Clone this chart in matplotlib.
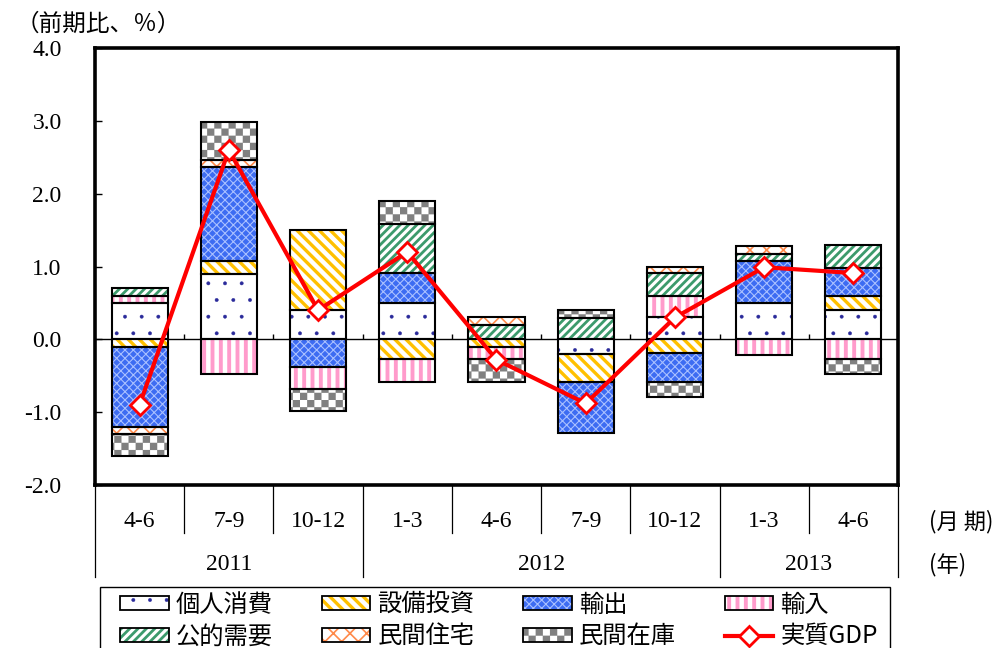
import warnings
import numpy as np
import matplotlib
matplotlib.use("Agg")
import matplotlib.pyplot as plt
import matplotlib.hatch as mhatch
from matplotlib.path import Path
from matplotlib.patches import Rectangle
from matplotlib.legend_handler import HandlerPatch
import matplotlib.transforms as mtrans

warnings.filterwarnings("ignore")

# ---------------- data ----------------
quarters = ["4-6", "7-9", "10-12", "1-3", "4-6", "7-9", "10-12", "1-3", "4-6"]
years = ["2011", "2012", "2013"]
year_counts = [3, 4, 2]

consumption = [0.5, 0.9, 0.4, 0.5, 0.0, -0.2, 0.3, 0.5, 0.4]        # 個人消費
investment = [-0.1, 0.17, 1.1, -0.27, -0.1, -0.39, -0.19, 0.0, 0.19]  # 設備投資
exports = [-1.1, 1.3, -0.38, 0.41, 0.0, -0.7, -0.39, 0.57, 0.39]     # 輸出
imports = [0.1, -0.48, -0.3, -0.31, -0.17, 0.0, 0.29, -0.21, -0.27]  # 輸入
public = [0.1, 0.0, 0.0, 0.68, 0.2, 0.29, 0.32, 0.1, 0.31]           # 公的需要
housing = [-0.1, 0.09, 0.0, 0.0, 0.11, 0.0, 0.08, 0.11, 0.0]         # 民間住宅
inventory = [-0.3, 0.52, -0.31, 0.31, -0.31, 0.11, -0.21, 0.0, -0.21]  # 民間在庫
real_gdp = [-0.9, 2.6, 0.4, 1.2, -0.28, -0.88, 0.3, 0.99, 0.91]      # 実質GDP

y_ticks = [-2.0, -1.0, 0.0, 1.0, 2.0, 3.0, 4.0]

# ---------------- custom checker hatch ----------------
class CheckerHatch(mhatch.HatchPatternBase):
    def __init__(self, hatch, density):
        self.n = 14 if "c" in hatch else 0
        self.num_vertices = (self.n * self.n // 2) * 5

    def set_vertices_and_codes(self, vertices, codes):
        s = 1.0 / self.n
        k = 0
        for i in range(self.n):
            for j in range(self.n):
                if (i + j) % 2 == 0:
                    x0, y0 = i * s, j * s
                    vertices[k:k + 5] = [(x0, y0), (x0 + s, y0), (x0 + s, y0 + s),
                                         (x0, y0 + s), (x0, y0)]
                    codes[k] = Path.MOVETO
                    codes[k + 1:k + 4] = Path.LINETO
                    codes[k + 4] = Path.CLOSEPOLY
                    k += 5

mhatch._hatch_types.append(CheckerHatch)


def apply_hlw(artist, lw):
    if hasattr(artist, "set_hatch_linewidth"):
        artist.set_hatch_linewidth(lw)
    artist._hatch_linewidth = lw
    return artist


class HatchHandler(HandlerPatch):
    def __init__(self, hlw, **kw):
        super().__init__(**kw)
        self.hlw = hlw

    def create_artists(self, *args, **kwargs):
        with plt.rc_context({"hatch.linewidth": self.hlw}):
            arts = super().create_artists(*args, **kwargs)
        for a in arts:
            apply_hlw(a, self.hlw)
        return arts


JP = ["Noto Sans CJK JP", "DejaVu Sans"]
NUM = ["Liberation Serif", "DejaVu Serif"]

components = [
    ("個人消費", consumption, dict(fc="white", hc="#2a2a9a", hatch=".", hlw=0.3)),
    ("設備投資", investment, dict(fc="white", hc="#FFC000", hatch="\\\\\\", hlw=2.4)),
    ("輸出", exports, dict(fc="#3D6CF2", hc="#A9C0FF", hatch="xxxx", hlw=0.8)),
    ("輸入", imports, dict(fc="white", hc="#FF9BCB", hatch="||", hlw=2.8)),
    ("公的需要", public, dict(fc="white", hc="#3C9A6C", hatch="////", hlw=2.0)),
    ("民間住宅", housing, dict(fc="white", hc="#FF8A4A", hatch="xx", hlw=1.2)),
    ("民間在庫", inventory, dict(fc="white", hc="#808080", hatch="c", hlw=0.1)),
]

fig = plt.figure(figsize=(10.04, 6.48), dpi=100)
ax = fig.add_axes([95 / 1004, 1 - 485 / 648, 803 / 1004, 437 / 648])

n = len(quarters)
x = np.arange(n)
width = 0.63

pos_base = np.zeros(n)
neg_base = np.zeros(n)
legend_handles = {}
handler_map = {}
for name, vals, st in components:
    vals = np.asarray(vals, dtype=float)
    mask = vals != 0
    bottoms = np.where(vals >= 0, pos_base, neg_base)
    with plt.rc_context({"hatch.linewidth": st["hlw"]}):
        bars = ax.bar(x[mask], vals[mask], bottom=bottoms[mask], width=width,
                      facecolor=st["fc"], edgecolor=st["hc"], hatch=st["hatch"],
                      linewidth=0, zorder=2)
        hp = Rectangle((0, 0), 1, 1, facecolor=st["fc"], edgecolor=st["hc"],
                       hatch=st["hatch"], linewidth=0)
    for b in bars:
        apply_hlw(b, st["hlw"])
    apply_hlw(hp, st["hlw"])
    ax.bar(x[mask], vals[mask], bottom=bottoms[mask], width=width, fill=False,
           edgecolor="black", linewidth=1.5, zorder=3)
    pos_base += np.where(vals > 0, vals, 0)
    neg_base += np.where(vals < 0, vals, 0)
    he = Rectangle((0, 0), 1, 1, fill=False, edgecolor="black", linewidth=1.3)
    legend_handles[name] = (hp, he)
    handler_map[hp] = HatchHandler(st["hlw"])

ax.axhline(0, color="black", lw=1.0, zorder=1)
ax.vlines(x[:-1] + 0.5, 0, 0.08, color="black", lw=1.0, zorder=1)

gdp_line, = ax.plot(x, real_gdp, color="#FF0000", lw=3, marker="D", ms=10.5,
                    mfc="white", mec="#FF0000", mew=2, zorder=5)

ax.set_xlim(-0.5, n - 0.5)
ax.set_ylim(-2.0, 4.0)
ax.set_yticks(y_ticks)
ax.set_yticklabels([f"{v:.1f}" for v in y_ticks], fontfamily=NUM, fontsize=17)
ax.tick_params(axis="y", direction="in", length=5, width=1, pad=24)
ax.tick_params(axis="x", bottom=False, labelbottom=False)
for sp in ax.spines.values():
    sp.set_linewidth(2.6)
    sp.set_color("black")

# category table under the axis
trans = mtrans.blended_transform_factory(ax.transData, ax.transAxes)
row1_y = -0.084
row2_y = -0.183
sep_short = -0.110
sep_long = -0.211
group_edges = np.concatenate([[0], np.cumsum(year_counts)]) - 0.5
for b in np.arange(n + 1) - 0.5:
    bottom = sep_long if np.any(np.isclose(group_edges, b)) else sep_short
    ax.plot([b, b], [0, bottom], transform=trans, color="black", lw=0.9,
            clip_on=False)
for i, q in enumerate(quarters):
    ax.text(x[i], row1_y, q, transform=trans, ha="center", va="center",
            fontsize=17, fontfamily=NUM)
for i, yr in enumerate(years):
    c = (group_edges[i] + group_edges[i + 1]) / 2
    ax.text(c, row2_y, yr, transform=trans, ha="center", va="center",
            fontsize=17, fontfamily=NUM)
ax.text(n - 0.5 + 0.35, row1_y, "(月 期)", transform=trans, ha="left",
        va="center", fontsize=16, fontfamily=JP)
ax.text(n - 0.5 + 0.35, row2_y, "(年)", transform=trans, ha="left",
        va="center", fontsize=16, fontfamily=JP)

fig.text(16 / 1004, 1 - 24 / 648, "（前期比、％）", ha="left", va="center",
         fontsize=17, fontfamily=JP)

# legend (row-wise order for 4 columns), frame drawn separately
order = ["個人消費", "公的需要", "設備投資", "民間住宅", "輸出", "民間在庫", "輸入", "実質GDP"]
legend_handles["実質GDP"] = gdp_line
leg = fig.legend([legend_handles[k] for k in order], order,
                 loc="upper left", bbox_to_anchor=(120 / 1004, 1 - 592 / 648),
                 ncol=4, frameon=False, handler_map=handler_map,
                 prop={"family": JP, "size": 17.5}, handlelength=2.0,
                 handleheight=0.5, handletextpad=0.3, columnspacing=2.0,
                 labelspacing=0.22, borderpad=0.0, borderaxespad=0)
fig.patches.append(Rectangle((100 / 1004, -0.05), 790 / 1004, (1 - 587 / 648) + 0.05,
                             transform=fig.transFigure, fill=False,
                             edgecolor="black", linewidth=1.0))

fig.savefig("out.png", dpi=100)
